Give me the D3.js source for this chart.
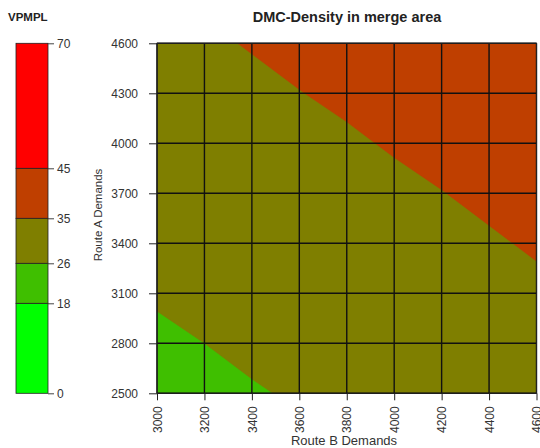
<!DOCTYPE html>
<html>
<head>
<meta charset="utf-8">
<script src="https://cdn.jsdelivr.net/npm/d3@7"></script>
<style>
  body { margin: 0; background: #fff; }
  text { font-family: "Liberation Sans", Arial, sans-serif; fill: #333; }
</style>
</head>
<body>
<script>
// grid of Route B (x) and Route A (y) demands
const routeB = [3000, 3200, 3400, 3600, 3800, 4000, 4200, 4400, 4600];
const routeA = [2500, 2800, 3100, 3400, 3700, 4000, 4300, 4600];
// density, one row per Route A value (bottom to top)
const density = [
  [23.7, 24.6, 25.6, 26.5, 27.5, 28.4, 29.4, 30.3, 31.3],
  [25.1, 26.0, 27.0, 27.9, 28.9, 29.8, 30.8, 31.7, 32.7],
  [26.5, 27.4, 28.4, 29.3, 30.3, 31.2, 32.2, 33.1, 34.1],
  [27.8, 28.8, 29.7, 30.7, 31.6, 32.6, 33.6, 34.5, 35.5],
  [29.2, 30.2, 31.1, 32.1, 33.0, 34.0, 34.9, 35.9, 36.8],
  [30.6, 31.6, 32.5, 33.5, 34.4, 35.4, 36.3, 37.3, 38.2],
  [32.0, 33.0, 33.9, 34.9, 35.8, 36.8, 37.7, 38.7, 39.6],
  [33.4, 34.3, 35.3, 36.2, 37.2, 38.2, 39.1, 40.1, 41.0]
];
// legend levels and colours
const levels = [0, 18, 26, 35, 45, 70];
const levelColors = ["#00FF00", "#3FBF00", "#7F7F00", "#BF3F00", "#FF0000"];

const width = 540, height = 448;
const plotL = 157, plotR = 536.5, plotT = 43.3, plotB = 393.3;

const svg = d3.select("body").append("svg")
    .attr("width", width)
    .attr("height", height);

// scales
const xScale = d3.scaleLinear().domain([3000, 4600]).range([plotL, plotR]);
const yScale = d3.scaleLinear().domain([2500, 4600]).range([plotB, plotT]);
const legScale = d3.scaleLinear().domain([0, 70]).range([plotB, plotT]);

// contour grid coords -> pixels (value i sits at i + 0.5)
const gx = d3.scaleLinear().domain([0.5, routeB.length - 0.5])
    .range([xScale(routeB[0]), xScale(routeB[routeB.length - 1])]);
const gy = d3.scaleLinear().domain([0.5, routeA.length - 0.5])
    .range([yScale(routeA[0]), yScale(routeA[routeA.length - 1])]);

const contours = d3.contours()
    .size([routeB.length, routeA.length])
    .thresholds(levels.slice(0, -1))(density.flat());

const path = d3.geoPath(d3.geoTransform({
  point: function(x, y) { this.stream.point(gx(x), gy(y)); }
}));

svg.append("clipPath").attr("id", "plotclip")
  .append("rect")
    .attr("x", plotL).attr("y", plotT)
    .attr("width", plotR - plotL).attr("height", plotB - plotT);

svg.append("g")
    .attr("clip-path", "url(#plotclip)")
  .selectAll("path")
  .data(contours)
  .enter()
  .append("path")
    .attr("d", path)
    .attr("fill", (d, i) => levelColors[i])
    .attr("stroke", (d, i) => levelColors[i])
    .attr("stroke-width", 0.5);

// grid
const yTicks = d3.range(2500, 4601, 300);
svg.append("g").selectAll("line")
  .data(routeB)
  .enter().append("line")
    .attr("x1", d => xScale(d)).attr("x2", d => xScale(d))
    .attr("y1", plotT).attr("y2", plotB)
    .attr("stroke", "#111").attr("stroke-width", 1.4);
svg.append("g").selectAll("line")
  .data(yTicks)
  .enter().append("line")
    .attr("x1", plotL).attr("x2", plotR)
    .attr("y1", d => yScale(d)).attr("y2", d => yScale(d))
    .attr("stroke", "#111").attr("stroke-width", 1.4);

svg.append("rect")
    .attr("x", plotL).attr("y", plotT)
    .attr("width", plotR - plotL).attr("height", plotB - plotT)
    .attr("fill", "none").attr("stroke", "#222").attr("stroke-width", 1);

// axes
const bottomAxis = d3.axisBottom(xScale)
    .tickValues(routeB).tickFormat(d3.format("d"))
    .tickSize(7).tickSizeOuter(0);
const leftAxis = d3.axisLeft(yScale)
    .tickValues(yTicks).tickFormat(d3.format("d"))
    .tickSize(8).tickSizeOuter(0);

const gx1 = svg.append("g")
    .attr("transform", "translate(0," + plotB + ")")
    .call(bottomAxis);
gx1.select(".domain").remove();
gx1.selectAll("line").attr("stroke", "#222");
gx1.selectAll("text")
    .attr("font-size", 12)
    .attr("fill", "#333")
    .attr("transform", "rotate(-90)")
    .attr("text-anchor", "end")
    .attr("x", -13)
    .attr("y", 0)
    .attr("dy", "0.35em");

const gy1 = svg.append("g")
    .attr("transform", "translate(" + plotL + ",0)")
    .call(leftAxis);
gy1.select(".domain").remove();
gy1.selectAll("line").attr("stroke", "#222");
gy1.selectAll("text")
    .attr("font-size", 12)
    .attr("fill", "#333")
    .attr("x", -19);

// titles
svg.append("text")
    .attr("x", 347).attr("y", 22)
    .attr("text-anchor", "middle")
    .attr("font-size", 14.5).attr("font-weight", "bold")
    .style("fill", "#222")
    .text("DMC-Density in merge area");
svg.append("text")
    .attr("x", 344).attr("y", 445)
    .attr("text-anchor", "middle")
    .attr("font-size", 13)
    .text("Route B Demands");
svg.append("text")
    .attr("transform", "translate(102,215) rotate(-90)")
    .attr("text-anchor", "middle")
    .attr("font-size", 11.5)
    .text("Route A Demands");

// legend
svg.append("text")
    .attr("x", 8).attr("y", 21)
    .attr("font-size", 11.5).attr("font-weight", "bold")
    .style("fill", "#222")
    .text("VPMPL");

const leg = svg.append("g");
leg.selectAll("rect")
  .data(levelColors)
  .enter().append("rect")
    .attr("x", 16)
    .attr("width", 32)
    .attr("y", (d, i) => legScale(levels[i + 1]))
    .attr("height", (d, i) => legScale(levels[i]) - legScale(levels[i + 1]))
    .attr("fill", d => d)
    .attr("stroke", "#222").attr("stroke-width", 0.8);

const legAxis = d3.axisRight(legScale)
    .tickValues(levels).tickFormat(d3.format("d"))
    .tickSize(6).tickSizeOuter(0);
const gl = svg.append("g")
    .attr("transform", "translate(48,0)")
    .call(legAxis);
gl.select(".domain").remove();
gl.selectAll("line").attr("stroke", "#444");
gl.selectAll("text")
    .attr("font-size", 12)
    .attr("fill", "#333")
    .attr("x", 9);
</script>
</body>
</html>
